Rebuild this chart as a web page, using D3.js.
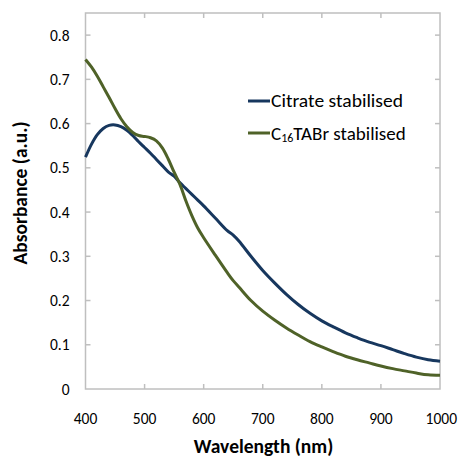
<!DOCTYPE html>
<html><head><meta charset="utf-8">
<script src="https://cdn.jsdelivr.net/npm/d3@7"></script>
<style>body{margin:0;background:#fff}svg{display:block}text{font-family:Carlito,Calibri,Lato,sans-serif;fill:#000}</style>
</head><body>
<svg id="c" width="459" height="458"></svg>
<script>
const wavelengths = [400,410,420,430,440,450,460,470,480,490,500,510,520,530,540,550,560,570,580,590,600,620,640,650,660,680,700,720,740,760,780,800,820,840,860,880,900,920,940,960,980,1000];
const citrate = [0.524,0.553,0.575,0.589,0.596,0.597,0.593,0.585,0.573,0.559,0.546,0.533,0.519,0.505,0.491,0.481,0.466,0.453,0.440,0.427,0.414,0.386,0.358,0.348,0.334,0.300,0.268,0.240,0.214,0.191,0.171,0.154,0.140,0.127,0.116,0.106,0.098,0.089,0.080,0.072,0.066,0.063];
const ctab = [0.745,0.728,0.707,0.683,0.659,0.634,0.611,0.593,0.580,0.573,0.571,0.568,0.561,0.545,0.520,0.490,0.462,0.425,0.392,0.364,0.342,0.302,0.263,0.245,0.230,0.200,0.176,0.156,0.138,0.122,0.107,0.095,0.084,0.074,0.066,0.059,0.052,0.046,0.041,0.036,0.032,0.031];
const xTicks = [400,500,600,700,800,900,1000];
const yTicks = [0,0.1,0.2,0.3,0.4,0.5,0.6,0.7,0.8];
const seriesNames = ["Citrate stabilised","C16TABr stabilised"];

const svg = d3.select("#c");
const L=85.5, R=440, T=13, B=389;
const x = d3.scaleLinear().domain([400,1000]).range([L,R]);
const y = d3.scaleLinear().domain([0,0.85]).range([B,T]);
const axisCol = "#bfbfbf";

// frame
svg.append("rect").attr("x",L).attr("y",T).attr("width",R-L).attr("height",B-T)
  .attr("fill","none").attr("stroke",axisCol).attr("stroke-width",1.5);

// inward ticks
const tk = 5;
const g = svg.append("g").attr("stroke",axisCol).attr("stroke-width",1.5);
xTicks.slice(1,-1).forEach(t=>{
  g.append("line").attr("x1",x(t)).attr("x2",x(t)).attr("y1",B).attr("y2",B-tk);
  g.append("line").attr("x1",x(t)).attr("x2",x(t)).attr("y1",T).attr("y2",T+tk);
});
yTicks.slice(1).forEach(t=>{
  g.append("line").attr("x1",L).attr("x2",L+tk).attr("y1",y(t)).attr("y2",y(t));
  g.append("line").attr("x1",R).attr("x2",R-tk).attr("y1",y(t)).attr("y2",y(t));
});

// tick labels
svg.append("g").selectAll("text").data(xTicks).join("text")
  .attr("x",(d,i)=>i===xTicks.length-1?457:x(d)).attr("y",424)
  .attr("text-anchor",(d,i)=>i===xTicks.length-1?"end":"middle")
  .style("font-size","15.5px").text(d=>d);
svg.append("g").selectAll("text").data(yTicks).join("text")
  .attr("x",69.5).attr("y",d=>y(d)+5.5).attr("text-anchor","end")
  .style("font-size","15.5px").text(d=>d===0?"0":d.toFixed(1));

// axis titles
svg.append("text").attr("x",263.5).attr("y",453).attr("text-anchor","middle")
  .style("font-size","19.5px").style("font-weight","bold").text("Wavelength (nm)");
svg.append("text").attr("transform","translate(27,193) rotate(-90)").attr("text-anchor","middle")
  .style("font-size","19.5px").style("font-weight","bold").text("Absorbance (a.u.)");

// lines
const colors = ["#17375e","#4f6228"];
const data = [citrate, ctab];
const line = d3.line().x((d,i)=>x(wavelengths[i])).y(d=>y(d)).curve(d3.curveCatmullRom.alpha(0.5));
data.forEach((s,k)=>{
  svg.append("path").attr("d",line(s)).attr("fill","none")
    .attr("stroke",colors[k]).attr("stroke-width",3).attr("stroke-linejoin","round");
});

// legend
const lg = svg.append("g");
[101,133].forEach((yy,k)=>{
  lg.append("line").attr("x1",248).attr("x2",270).attr("y1",yy).attr("y2",yy)
    .attr("stroke",colors[k]).attr("stroke-width",3);
});
lg.append("text").attr("x",271).attr("y",107).attr("textLength",132).attr("lengthAdjust","spacingAndGlyphs")
  .style("font-size","19px").text(seriesNames[0]);
const t2 = lg.append("text").attr("x",271).attr("y",140).style("font-size","19px");
t2.append("tspan").text("C");
t2.append("tspan").style("font-size","12px").attr("dy",1.5).text("16");
t2.append("tspan").attr("dy",-1.5).text("TABr stabilised");
</script>
</body></html>
